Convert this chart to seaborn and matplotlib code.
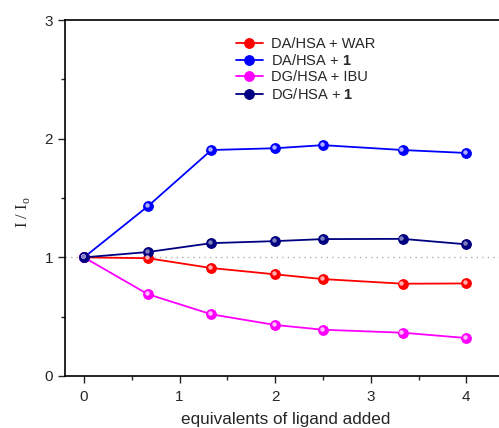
import numpy as np
import pandas as pd
import seaborn as sns
import matplotlib.pyplot as plt
from matplotlib.transforms import offset_copy

# data
equiv = [0, 0.667, 1.333, 2, 2.5, 3.333, 4]
da_war = [1.0, 0.993, 0.91, 0.857, 0.817, 0.778, 0.78]
da_1 = [1.0, 1.43, 1.905, 1.92, 1.946, 1.905, 1.88]
dg_ibu = [1.0, 0.69, 0.52, 0.43, 0.39, 0.365, 0.32]
dg_1 = [1.0, 1.045, 1.12, 1.137, 1.154, 1.156, 1.11]

labels = ['DA/HSA + WAR', 'DA/HSA + $\\mathbf{1}$', 'DG/HSA + IBU', 'DG/HSA + $\\mathbf{1}$']
colors = ['#ff0000', '#0000ff', '#ff00ff', '#000080']
highlights = ['#ffb0b0', '#b0b0ff', '#ffc0ff', '#8080c0']

sns.set_style('ticks')
plt.rcParams['font.family'] = ['Liberation Sans', 'DejaVu Sans']
plt.rcParams['mathtext.fontset'] = 'custom'
plt.rcParams['mathtext.bf'] = 'Liberation Sans:bold'
plt.rcParams['mathtext.rm'] = 'Liberation Sans'

df = pd.DataFrame({
    'equiv': equiv * 4,
    'ratio': da_war + da_1 + dg_ibu + dg_1,
    'series': sum([[l] * len(equiv) for l in labels], []),
})

fig = plt.figure(figsize=(4.99, 4.28), dpi=100)
ax = fig.add_axes([0.130, 0.1215, 0.885, 0.8315])

# reference line at I/Io = 1
ax.axhline(1, color='#b0b0b0', ls=(0, (1, 3)), lw=1, zorder=1)

for lab, c, h in zip(labels, colors, highlights):
    sub = df[df.series == lab]
    sns.lineplot(data=sub, x='equiv', y='ratio', ax=ax, color=c, lw=1.3,
                 marker='o', markersize=7, markeredgecolor=c, markerfacecolor=c,
                 label=lab, zorder=3)
    tr = offset_copy(ax.transData, fig=fig, x=-0.8, y=0.8, units='points')
    ax.plot(sub.equiv, sub.ratio, ls='none', marker='o', markersize=2.2,
            color=h, transform=tr, zorder=4)

ax.set_xlim(-0.2, 4.42)
ax.set_ylim(0, 3)
ax.set_xticks([0, 1, 2, 3, 4])
ax.set_xticks([0.5, 1.5, 2.5, 3.5], minor=True)
ax.set_yticks([0, 1, 2, 3])
ax.set_yticks([0.5, 1.5, 2.5], minor=True)
ax.tick_params(axis='both', which='major', length=5, width=1, labelsize=11, direction='out')
ax.tick_params(axis='x', which='major', pad=5)
ax.tick_params(axis='both', which='minor', length=3, width=1, direction='out')
for s in ['left', 'bottom', 'top']:
    ax.spines[s].set_linewidth(1.2)
    ax.spines[s].set_color('black')
ax.spines['right'].set_visible(False)

ax.set_xlabel('equivalents of ligand added', fontsize=12.3, labelpad=6)
ax.set_ylabel('I / I$_\\mathregular{o}$', fontsize=12, family='Liberation Serif', labelpad=8)
ax.yaxis.set_label_coords(-0.075, 0.46)

ax.legend(loc='upper left', bbox_to_anchor=(0.36, 0.985), frameon=False, fontsize=10.5,
          handlelength=1.9, handletextpad=0.5, labelspacing=0.15, borderpad=0.3)

plt.savefig('out.png', dpi=100)
